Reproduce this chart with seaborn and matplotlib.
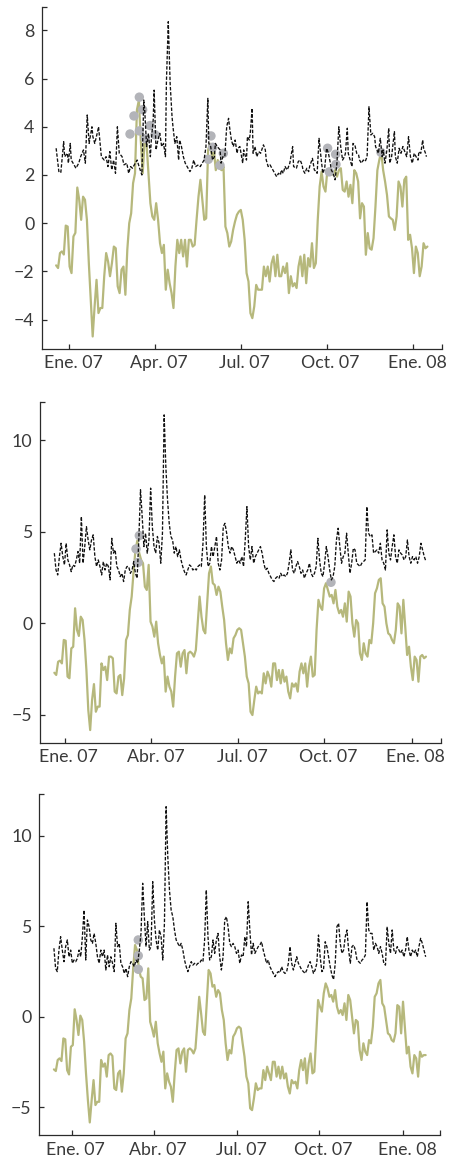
import numpy as np
import matplotlib
matplotlib.use("Agg")
import matplotlib.pyplot as plt
import matplotlib.transforms as mtrans
import seaborn as sns

# ---------------- data (x = days since 1 Jan 2007) ----------------
# Panel 1
g1_val = [-1.75,-1.86,-1.24,-1.17,-1.3,-0.1,-0.14,-1.8,-2.07,-0.55,-0.4,1.48,0.97,0.14,1.1,0.97,0.14,-1.66,-3.18,-4.7,
          -3.45,-2.35,-3.73,-3.52,-3.52,-2.2,-1.24,-1.59,-2.2,-1.66,-0.97,-1.04,-2.62,-2.9,-1.93,-1.8,-2.97,-1.1,0.0,0.41,
          1.66,2.07,4.7,5.1,3.45,2.07,3.45,3.3,2.07,0.83,0.28,0.14,0.83,0.14,-0.83,-1.24,-0.9,-2.76,-1.93,-2.49,
          -2.9,-3.52,-1.8,-0.69,-1.24,-0.69,-1.38,-0.69,-1.8,-0.69,-0.69,-0.97,-0.9,0.14,1.1,1.8,0.97,0.14,0.2,3.04,
          3.3,2.76,3.04,2.2,2.62,2.28,2.2,2.35,-0.14,-0.41,-0.97,-0.76,-0.28,0.07,0.35,0.48,0.55,0.14,-0.69,-2.07,
          -2.42,-3.73,-3.94,-3.45,-2.56,-2.76,-2.76,-2.76,-1.8,-2.2,-1.8,-2.42,-1.66,-1.38,-2.2,-1.31,-2.2,-2.2,-1.8,-2.07,
          -1.66,-2.9,-2.2,-2.62,-2.49,-2.69,-1.8,-1.38,-2.2,-1.31,-2.49,-1.45,-1.8,-0.83,-1.86,-1.66,0.14,1.52,2.14,1.52,
          1.31,2.2,2.07,2.2,2.0,2.2,1.93,2.2,2.28,1.38,1.31,1.73,1.1,1.59,0.83,2.2,2.07,1.73,0.2,0.83,
          0.69,-1.31,-0.41,-1.04,-1.1,-0.62,0.69,2.2,2.62,2.97,2.2,1.73,1.17,0.28,0.2,0.14,-0.28,0.28,1.73,1.52,
          0.69,1.8,1.93,-0.69,-0.48,-1.04,-2.07,-0.97,-1.24,-2.2,-1.8,-0.83,-1.04,-0.97]
b1_day = [-14,-11,-9,-6,-5,-2,-1,1,2,4,7,10,12,15,17,19,21,24,25,27,30,31,34,37,39,41,43,45,47,49,
          51,53,56,58,61,63,65,67,70,72,74,77,79,80,82,84,86,87,89,90,92,94,96,98,100,102,103,105,107,109,
          110,112,114,116,117,119,121,123,126,128,130,132,134,137,139,141,143,145,147,148,150,152,154,155,157,160,161,163,165,167,
          169,170,172,174,176,178,179,
          181,184,185,188,189,191,192,194,195,197,199,201,203,206,208,209,211,213,215,216,218,220,222,224,225,227,229,231,232,234,
          237,238,241,243,245,247,248,250,252,254,255,258,260,262,263,265,267,269,271,273,275,277,278,280,282,284,286,288,290,292,
          293,295,296,298,300,301,303,305,307,308,310,312,314,316,318,320,322,324,325,328,330,332,333,335,337,339,340,342,345,346,
          348,350,352,354,356,358,360,362,364,366,368,370,371,373,375,376,378,379]
b1_val = [3.11,2.11,2.11,3.38,2.76,2.9,2.49,3.31,2.62,2.49,2.28,2.49,2.76,3.04,2.49,4.49,3.31,4.0,3.59,3.31,
          3.8,4.0,2.76,2.62,2.76,2.35,2.97,2.21,2.62,2.07,4.0,2.9,2.76,2.42,2.49,2.07,2.35,2.28,2.49,2.62,
          2.35,2.0,5.11,4.7,3.18,3.73,2.76,3.45,4.28,5.52,3.04,3.45,3.73,3.18,3.31,2.76,5.8,8.36,5.8,4.42,
          4.0,3.31,3.59,2.62,3.45,3.18,2.76,2.49,2.28,2.14,2.28,2.62,2.35,2.42,2.35,2.49,2.62,3.18,5.18,3.31,
          3.18,2.62,2.76,3.31,3.18,3.04,2.49,2.76,2.76,4.0,4.35,4.0,3.45,3.18,3.45,2.9,3.11,
          3.18,2.49,3.04,2.62,3.59,3.45,3.73,4.77,2.9,3.18,2.76,2.97,2.9,3.25,3.04,2.62,2.35,2.42,2.28,2.21,
          2.07,1.93,2.07,2.0,2.21,2.07,2.35,2.21,2.28,2.49,3.18,2.35,2.28,2.56,2.62,2.42,2.21,2.07,2.28,2.14,
          2.35,2.69,2.21,2.14,2.07,3.52,2.76,2.07,2.28,3.11,2.9,2.49,2.21,2.07,1.8,2.49,4.0,3.18,2.62,2.76,
          2.9,3.94,2.9,2.62,2.35,3.31,3.25,2.9,2.83,2.62,2.49,2.62,2.56,2.76,4.83,3.66,3.73,3.59,3.18,2.9,
          3.52,2.76,3.04,2.49,3.04,3.94,2.49,2.76,3.8,2.76,2.49,3.11,2.9,3.18,2.97,2.76,3.59,2.76,2.49,2.9,
          2.76,2.62,2.97,2.9,3.45,3.11,2.9,2.76]
d1_day = [64.4,68.6,74.3,74.3,77.8,80.7,85.6,90.9,147.5,150.3,152.1,159.9,163.4,274.1,275.9,282.6,283.0,330.7]
d1_val = [3.7,4.45,5.23,3.83,4.71,3.51,4.05,3.67,2.65,3.62,3.15,2.4,2.9,3.11,2.13,2.86,2.44,2.94]

# Panel 2
g2_val = [-2.7,-2.82,-2.1,-2.04,-2.19,-0.91,-0.95,-2.91,-3.0,-1.37,-1.28,0.82,-0.36,-0.69,0.36,0.18,-0.91,-2.55,-4.74,-5.83,
          -4.19,-3.32,-4.83,-4.55,-4.55,-2.19,-2.55,-2.37,-3.1,-1.82,-1.82,-1.91,-3.73,-3.83,-2.91,-2.82,-3.92,-3.0,-0.91,-0.64,
          0.73,1.46,2.82,4.0,4.52,3.83,3.46,3.28,2.0,1.82,3.19,0.09,-0.18,-0.73,0.09,-1.09,-1.73,-2.19,-1.82,-3.73,
          -2.91,-3.46,-3.73,-4.55,-2.91,-1.64,-1.55,-2.37,-1.64,-1.46,-2.73,-1.64,-1.55,-1.64,-1.82,-1.46,0.0,1.46,0.36,-0.36,
          -0.55,1.09,2.73,3.1,2.19,2.09,1.55,2.0,1.73,0.91,0.18,-1.09,-2.0,-1.37,-1.64,-0.82,-0.64,-0.36,-0.27,-0.36,
          -1.09,-1.82,-2.91,-3.28,-4.83,-5.01,-4.19,-3.46,-3.83,-3.73,-3.83,-2.73,-3.28,-2.64,-2.91,-3.46,-2.19,-2.19,-3.1,-2.55,
          -3.28,-2.55,-3.19,-2.91,-3.73,-4.1,-3.28,-3.46,-3.28,-3.73,-2.64,-2.19,-2.73,-2.19,-3.46,-2.37,-1.82,-2.91,-2.82,-0.36,
          1.28,0.91,0.73,1.91,2.19,1.82,1.46,1.55,1.09,1.82,0.91,0.55,0.73,0.36,1.09,0.09,1.73,1.46,0.0,-0.73,
          0.18,0.0,-1.64,-2.0,-1.09,-1.64,-1.82,-0.91,-1.09,0.0,1.64,1.91,2.37,2.46,1.09,0.91,0.0,-0.55,-0.64,-0.91,
          -1.09,-0.36,1.09,0.91,-0.55,1.28,-0.18,-1.73,-1.28,-2.37,-3.1,-1.82,-2.0,-3.19,-1.82,-1.73,-1.91,-1.82]
b2_val = [3.83,2.91,2.64,3.64,4.37,3.64,3.19,4.37,3.46,3.19,2.82,3.19,3.1,3.46,3.92,3.28,5.83,3.28,4.19,5.28,
          4.55,4.01,4.55,4.83,3.64,3.1,3.46,3.1,2.64,3.37,2.91,3.28,3.1,2.37,4.64,3.83,4.01,3.1,2.91,2.55,
          2.73,2.28,2.91,3.1,3.1,2.73,2.91,3.37,2.73,2.46,4.55,7.29,5.83,4.19,4.92,3.83,4.55,7.38,5.28,4.19,
          3.83,4.74,4.37,3.28,4.92,11.38,8.56,6.74,5.46,4.74,4.55,3.83,4.19,3.64,4.01,3.46,3.1,2.82,2.64,2.91,
          3.19,3.1,2.91,3.01,2.91,3.1,3.19,3.1,4.37,7.01,4.19,3.1,3.28,4.19,3.64,4.19,4.74,3.28,2.91,3.46,
          5.28,5.46,4.92,4.19,3.83,4.19,4.01,3.64,3.28,
          3.46,3.28,3.64,3.1,4.55,6.37,4.19,3.46,4.19,3.28,3.64,3.83,4.01,4.19,3.83,3.28,2.91,3.01,2.73,2.55,
          2.37,2.28,2.46,2.55,2.46,2.73,2.55,2.64,2.55,2.73,3.28,4.01,2.91,2.73,3.1,3.37,3.1,2.73,2.91,2.46,
          2.73,2.91,3.28,2.73,2.55,2.73,3.1,4.64,3.46,2.73,2.55,3.28,4.19,3.64,2.91,2.37,2.55,3.1,4.55,5.19,
          4.19,3.28,3.64,3.83,4.92,3.83,2.73,3.28,4.1,4.01,3.28,3.19,3.1,3.28,3.37,3.46,6.37,4.92,4.74,4.83,
          3.83,3.92,4.01,3.83,4.37,3.46,3.28,2.91,5.1,3.83,3.46,4.19,4.83,3.64,3.28,4.01,3.83,3.73,3.46,3.64,
          4.55,3.64,3.28,3.64,3.46,3.64,3.28,3.64,4.37,4.01,3.64,3.37]
d2_day = [76.1,72.6,74.7,279.3]
d2_val = [4.79,4.06,3.32,2.24]

# Panel 3
g3_val = [-2.91,-3.0,-2.39,-2.3,-2.45,-1.2,-1.25,-2.95,-3.19,-1.66,-1.57,0.41,-0.18,-1.01,0.06,-0.18,-1.38,-3.13,-4.6,-5.84,
          -4.6,-3.5,-4.88,-4.7,-4.7,-2.39,-2.76,-2.58,-3.31,-2.12,-2.03,-2.17,-3.96,-4.05,-3.13,-2.98,-4.14,-3.13,-1.2,-0.92,
          0.37,1.01,2.67,3.96,3.68,2.67,2.21,2.12,0.92,1.01,2.67,-0.28,-0.64,-1.1,-0.28,-1.47,-2.03,-2.49,-1.93,-3.96,
          -3.13,-3.59,-3.87,-4.7,-3.13,-1.84,-1.75,-2.58,-1.93,-1.75,-3.04,-1.84,-1.75,-1.84,-2.03,-1.75,-0.37,1.1,0.18,-0.83,
          -1.01,0.74,2.58,2.39,1.66,1.75,1.1,1.47,1.29,0.37,-0.18,-1.47,-2.39,-1.84,-2.03,-1.1,-0.92,-0.64,-0.55,-0.64,
          -1.47,-2.21,-3.31,-3.68,-5.06,-5.16,-4.51,-3.68,-4.05,-3.96,-3.96,-2.95,-3.5,-2.76,-3.13,-3.5,-2.49,-2.49,-3.31,-2.76,
          -3.41,-2.76,-3.41,-3.13,-3.87,-4.24,-3.5,-3.68,-3.59,-3.96,-2.95,-2.39,-2.95,-2.3,-3.68,-2.58,-2.03,-3.13,-3.04,-1.1,
          0.92,0.55,0.28,1.29,1.84,1.57,1.1,1.2,0.83,1.47,0.55,0.18,0.37,0.09,0.74,-0.18,1.2,0.92,0.0,-0.92,
          -0.18,-0.28,-1.84,-2.39,-1.47,-1.93,-2.12,-1.29,-1.47,-0.55,1.1,1.29,1.84,2.03,0.74,0.55,-0.18,-0.92,-1.01,-1.29,
          -1.38,-0.92,0.64,0.55,-0.92,0.83,-0.64,-2.03,-1.66,-2.76,-3.13,-2.12,-2.3,-3.31,-1.93,-2.21,-2.12,-2.12]
b3_val = [3.78,2.67,2.49,3.68,4.42,3.68,3.04,3.87,4.24,3.31,3.68,2.95,3.13,3.04,3.22,3.68,3.31,4.42,5.89,3.13,
          5.34,4.97,4.24,4.05,4.6,4.05,3.31,2.95,3.68,3.31,3.68,2.58,3.41,2.76,3.31,2.95,2.49,5.16,3.87,4.05,
          2.95,2.76,2.39,2.67,2.21,2.76,3.04,2.95,2.76,3.13,2.95,3.68,4.6,7.37,5.52,3.87,5.25,3.68,3.87,7.46,
          5.34,4.24,3.68,4.79,4.42,3.13,5.16,11.6,8.84,6.99,5.89,5.52,4.79,4.24,4.05,3.87,4.05,3.68,3.13,2.76,
          2.49,2.76,3.04,2.85,2.95,2.85,2.95,2.95,3.13,3.04,4.24,7.0,4.42,3.13,3.31,4.24,3.5,4.24,4.6,3.31,
          2.58,3.31,5.34,5.52,4.97,4.05,3.87,4.05,3.87,3.5,3.68,
          2.95,3.41,3.31,4.42,3.87,6.35,4.79,3.41,4.05,3.5,3.68,3.87,3.96,4.14,3.68,3.31,2.95,3.13,2.76,2.58,
          2.39,2.21,2.39,2.49,2.43,2.76,2.49,2.39,2.49,2.95,3.87,2.95,2.58,2.95,3.31,2.95,2.76,2.58,2.49,2.39,
          2.58,2.85,3.04,2.76,2.39,2.58,2.95,4.51,3.31,2.49,2.58,4.14,3.87,3.31,2.76,2.3,2.05,2.95,4.97,5.16,
          4.05,3.5,3.68,4.42,4.79,3.68,2.95,3.87,3.96,3.68,3.13,3.04,2.95,3.13,3.22,3.41,6.35,4.79,4.6,4.6,
          3.68,4.05,3.87,3.5,3.87,3.5,2.95,2.85,4.97,4.05,3.5,4.79,3.68,3.5,3.87,3.68,3.5,3.68,3.31,3.68,
          4.42,3.68,3.31,3.68,3.5,3.68,3.31,3.87,4.33,4.05,3.68,3.31]
d3_day = [75.4,75.4,75.4]
d3_val = [4.24,3.37,2.62]

labels_1 = ["Ene. 07", "Apr. 07", "Jul. 07", "Oct. 07", "Ene. 08"]
labels_23 = ["Ene. 07", "Abr. 07", "Jul. 07", "Oct. 07", "Ene. 08"]

# ---------------- style ----------------
sns.set_style("ticks")
plt.rcParams["font.family"] = ["Lato", "DejaVu Sans"]
plt.rcParams["axes.unicode_minus"] = True

GREEN = "#b6b87c"
DOT = "#b3b4b9"
AXC = "#2b2b2b"
TXT = "#3a3a3a"

fig = plt.figure(figsize=(4.5, 11.63), dpi=100)

panels = [
    dict(rect=[42/450, 1-349/1163, 400/450, 342/1163], ylim=(-5.22, 8.97), yt=[-4,-2,0,2,4,6,8],
         xt=[0, 91, 182, 273, 365], xl=labels_1, xlim=(-29, 395.5),
         g=g1_val, bday=b1_day, b=b1_val, dd=d1_day, dv=d1_val),
    dict(rect=[40/450, 1-742.7/1163, 400.7/450, 341/1163], ylim=(-6.52, 12.1), yt=[-5,0,5,10],
         xt=[-3, 89, 181, 272, 365], xl=labels_23, xlim=(-29.2, 395.6),
         g=g2_val, bday=None, b=b2_val, dd=d2_day, dv=d2_val),
    dict(rect=[39.3/450, 1-1135.3/1163, 400.7/450, 341.3/1163], ylim=(-6.55, 12.3), yt=[-5,0,5,10],
         xt=[5, 92, 180, 267, 356], xl=labels_23, xlim=(-29.5, 395.2),
         g=g3_val, bday=None, b=b3_val, dd=d3_day, dv=d3_val),
]

for p in panels:
    ax = fig.add_axes(p["rect"])
    gday = np.linspace(-14, 380, len(p["g"]))
    bday = np.asarray(p["bday"]) if p["bday"] is not None else np.linspace(-14, 380, len(p["b"]))
    sns.lineplot(x=gday, y=p["g"], ax=ax, color=GREEN, lw=1.6, estimator=None, sort=False,
                 legend=False, zorder=2)
    sns.scatterplot(x=p["dd"], y=p["dv"], ax=ax, color=DOT, s=46, edgecolor="none",
                    legend=False, zorder=3)
    sns.lineplot(x=bday, y=p["b"], ax=ax, color="#111111", lw=0.95, estimator=None, sort=False,
                 legend=False, zorder=4, linestyle=(0, (2.6, 1.3)))
    ax.set_xlim(*p["xlim"])
    ax.set_ylim(*p["ylim"])
    ax.set_yticks(p["yt"])
    ax.set_xticks(p["xt"])
    ax.set_xticklabels(p["xl"])
    ax.set_xticks([p["xlim"][1]], minor=True)
    ax.set_yticks([p["ylim"][1]], minor=True)
    sns.despine(ax=ax)
    for s in ("left", "bottom"):
        ax.spines[s].set_color(AXC)
        ax.spines[s].set_linewidth(0.9)
    ax.tick_params(axis="both", which="both", direction="in", length=3.8, width=0.9,
                   color=AXC, labelcolor=TXT, labelsize=12.8)
    ax.tick_params(axis="y", which="major", pad=5.5)
    ax.tick_params(axis="x", which="major", pad=4.5)
    off = mtrans.ScaledTranslation(4/100, 0, fig.dpi_scale_trans)
    for lab in ax.get_xticklabels():
        lab.set_transform(lab.get_transform() + off)
    ax.set_xlabel("")
    ax.set_ylabel("")

fig.savefig("out.png", dpi=100)
